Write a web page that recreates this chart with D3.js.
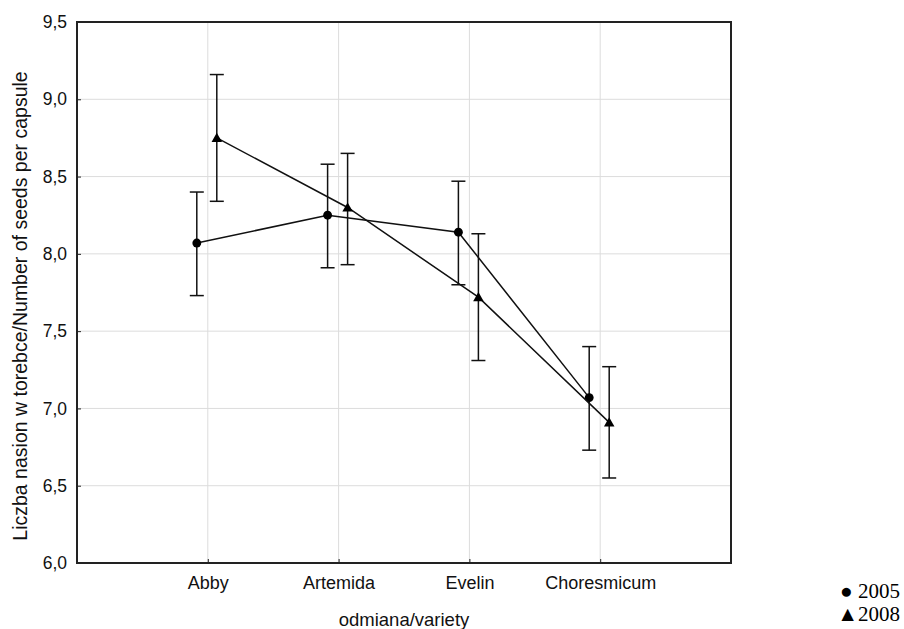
<!DOCTYPE html>
<html><head><meta charset="utf-8">
<script src="https://cdn.jsdelivr.net/npm/d3@7"></script>
<style>body{margin:0;background:#fff}svg{display:block}</style>
</head><body>
<svg id="c" width="904" height="629"></svg>
<script>
const categories = ["Abby", "Artemida", "Evelin", "Choresmicum"];
const yTicks = [6.0, 6.5, 7.0, 7.5, 8.0, 8.5, 9.0, 9.5];
const seriesNames = ["2005", "2008"];
const mean2005 = [8.07, 8.25, 8.14, 7.07];
const low2005  = [7.73, 7.91, 7.80, 6.73];
const high2005 = [8.40, 8.58, 8.47, 7.40];
const mean2008 = [8.75, 8.30, 7.72, 6.91];
const low2008  = [8.34, 7.93, 7.31, 6.55];
const high2008 = [9.16, 8.65, 8.13, 7.27];

const svg = d3.select("#c");
const L = 77, R = 731, T = 22, B = 563;
const x = d3.scalePoint().domain(categories).range([L, R]).padding(1);
const y = d3.scaleLinear().domain([6, 9.5]).range([B, T]);
const fmt = d => d3.format(".1f")(d).replace(".", ",");
const font = "'Liberation Sans', Arial, sans-serif";

// grid
svg.append("g").selectAll("line.h").data(yTicks).join("line")
  .attr("x1", L).attr("x2", R).attr("y1", d => y(d)).attr("y2", d => y(d))
  .attr("stroke", "#dcdcdc").attr("stroke-width", 1);
svg.append("g").selectAll("line.v").data(categories).join("line")
  .attr("x1", d => x(d)).attr("x2", d => x(d)).attr("y1", T).attr("y2", B)
  .attr("stroke", "#dcdcdc").attr("stroke-width", 1);

// axes
const yAxis = svg.append("g").attr("transform", `translate(${L},0)`)
  .call(d3.axisLeft(y).tickValues(yTicks).tickFormat(fmt).tickSizeInner(-4).tickSizeOuter(0).tickPadding(10));
const xAxis = svg.append("g").attr("transform", `translate(0,${B})`)
  .call(d3.axisBottom(x).tickSizeInner(-4).tickSizeOuter(0).tickPadding(13));
[yAxis, xAxis].forEach(g => {
  g.select(".domain").remove();
  g.selectAll(".tick line").attr("stroke", "#222");
  g.selectAll("text").attr("font-family", font).attr("fill", "#111");
});
yAxis.selectAll("text").attr("font-size", 17.5);
xAxis.selectAll("text").attr("font-size", 18);

// frame
svg.append("rect").attr("x", L).attr("y", T).attr("width", R - L).attr("height", B - T)
  .attr("fill", "none").attr("stroke", "#222").attr("stroke-width", 2);

const series = [
  {name: seriesNames[0], mean: mean2005, low: low2005, high: high2005, off: -11, sym: d3.symbolCircle, size: 62},
  {name: seriesNames[1], mean: mean2008, low: low2008, high: high2008, off: 9, sym: d3.symbolTriangle, size: 48}
];
const line = d3.line().x(d => d.x).y(d => d.y);
series.forEach(s => {
  const pts = categories.map((c, i) => ({x: x(c) + s.off, y: y(s.mean[i]), lo: y(s.low[i]), hi: y(s.high[i])}));
  const g = svg.append("g");
  g.append("path").attr("d", line(pts)).attr("fill", "none").attr("stroke", "#111").attr("stroke-width", 1.5);
  g.selectAll("line.err").data(pts).join("line")
    .attr("x1", d => d.x).attr("x2", d => d.x).attr("y1", d => d.lo).attr("y2", d => d.hi)
    .attr("stroke", "#111").attr("stroke-width", 1.5);
  ["lo", "hi"].forEach(k => {
    g.selectAll("line.cap" + k).data(pts).join("line")
      .attr("x1", d => d.x - 7).attr("x2", d => d.x + 7).attr("y1", d => d[k]).attr("y2", d => d[k])
      .attr("stroke", "#111").attr("stroke-width", 1.5);
  });
  g.selectAll("path.m").data(pts).join("path")
    .attr("transform", d => `translate(${d.x},${d.y + (s.sym === d3.symbolTriangle ? 1 : 0)})`)
    .attr("d", d3.symbol().type(s.sym).size(s.size)).attr("fill", "#000");
});

// axis titles
svg.append("text").attr("x", (L + R) / 2).attr("y", 626).attr("text-anchor", "middle")
  .attr("font-family", font).attr("font-size", 18.5).attr("fill", "#111").text("odmiana/variety");
svg.append("text").attr("transform", `translate(27,306) rotate(-90)`).attr("text-anchor", "middle")
  .attr("font-family", font).attr("font-size", 19.5).attr("fill", "#111")
  .text("Liczba nasion w torebce/Number of seeds per capsule");

// legend
const leg = svg.append("g").attr("font-family", "'Liberation Serif', 'Times New Roman', serif").attr("font-size", 21).attr("fill", "#000").attr("text-anchor", "end");
leg.append("text").attr("x", 900).attr("y", 598).text("\u25CF 2005");
leg.append("text").attr("x", 900).attr("y", 621).text("\u25B22008");
</script>
</body></html>
